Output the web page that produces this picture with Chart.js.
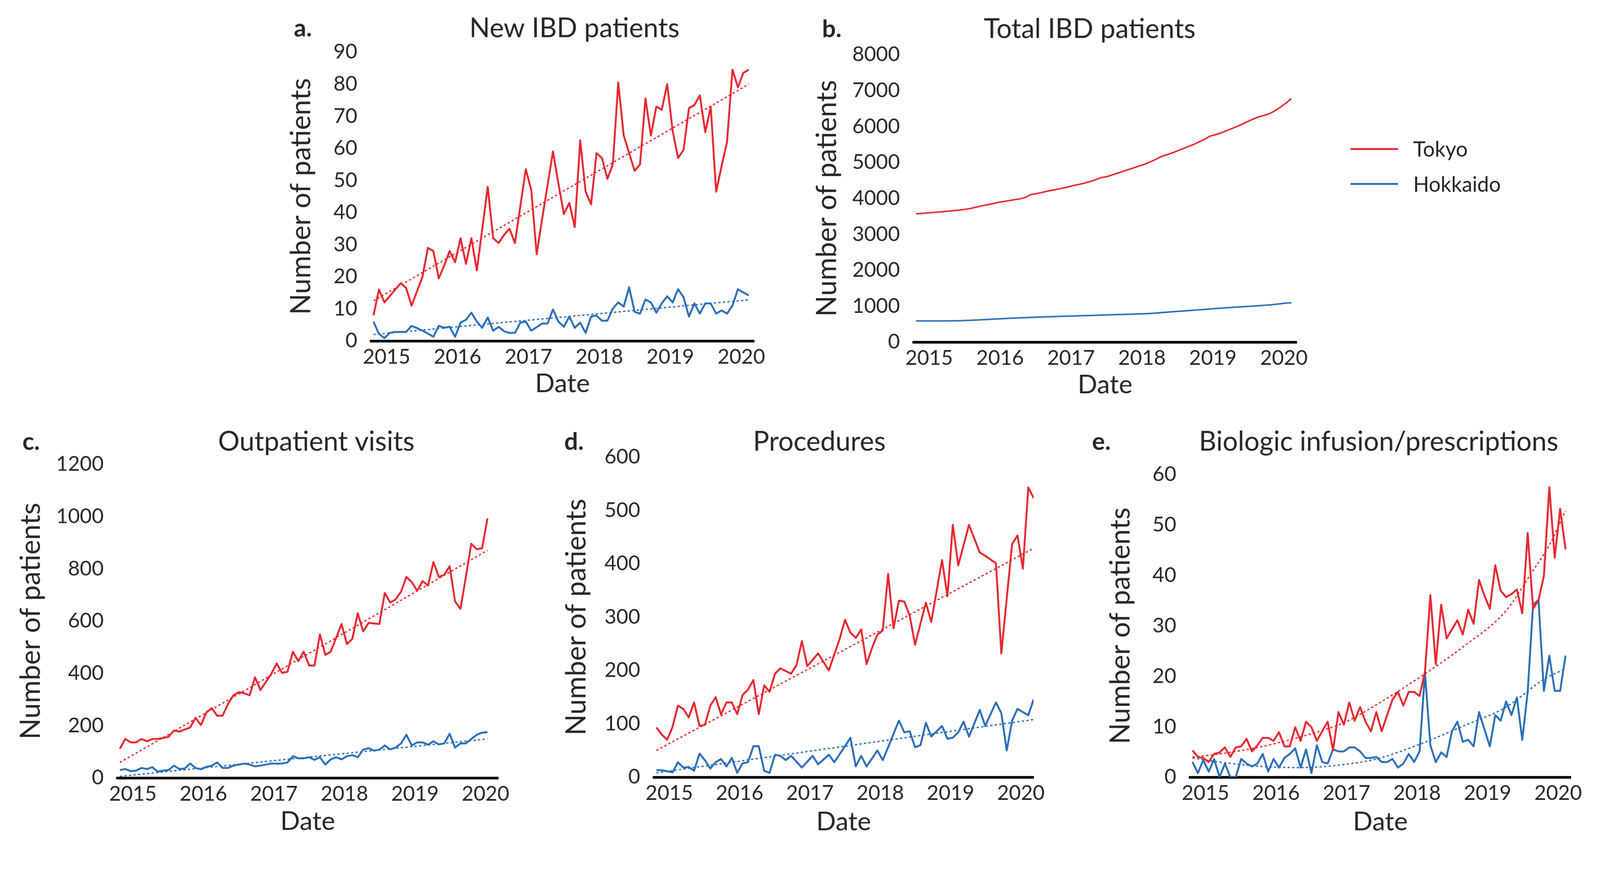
<!DOCTYPE html>
<html>
<head>
<meta charset="utf-8">
<title>IBD patients, Tokyo vs Hokkaido</title>
<script src="https://cdn.jsdelivr.net/npm/chart.js@4.4.1/dist/chart.umd.min.js"></script>
<style>
  html, body { margin: 0; padding: 0; background: #fff; overflow: hidden; }
  #page { position: absolute; left: 0; top: 0; width: 4214px; height: 2230px; transform-origin: 0 0; font-family: Lato, sans-serif; }
  canvas { position: absolute; }
  #legend { position: absolute; left: 3557px; top: 346px; color: #262626; font-size: 55px; font-family: Lato, sans-serif; }
  #legend .item { display: flex; align-items: center; height: 92px; }
  #legend .swatch { width: 125px; height: 5px; margin-right: 40px; }
</style>
</head>
<body>
<div id="page">
  <canvas id="chartA"></canvas>
  <canvas id="chartB"></canvas>
  <canvas id="chartC"></canvas>
  <canvas id="chartD"></canvas>
  <canvas id="chartE"></canvas>
  <div id="legend"></div>
</div>

<script>
// ---- data (4-weekly reporting periods, Oct 2014 - Feb 2020) ----
const seriesNames = ['Tokyo', 'Hokkaido'];
const seriesColors = ['#E8262F', '#2A6DB8'];
const yearTicks = ['2015', '2016', '2017', '2018', '2019', '2020'];

const periodStart = 2014.816;
const periodLength = 28 / 365.25;
const periods = Array.from({ length: 71 }, (_, i) => periodStart + i * periodLength);

// a. New IBD patients
const newTokyo = [8, 16, 12, 14, 16, 18, 16.5, 11, 15.5, 20, 29, 28, 19.5, 23.5, 28, 24.5, 32, 24, 32, 22,
  35, 48, 32, 30.5, 33, 35, 30.5, 42, 53.5, 47, 27, 38, 48.5, 59, 49, 39.5, 43, 35.5, 62.5, 46.5,
  42.5, 58.5, 57, 50.5, 55, 80.5, 64, 58.5, 53, 55, 75.5, 64, 73, 72, 80, 65.5, 57, 59.5, 72.5, 73.5,
  76.5, 65, 73, 46.5, 54.5, 62, 84.5, 79, 83.5, 84.5];
const newHokkaido = [6, 2.2, 0.9, 2.5, 2.8, 2.8, 2.8, 4.7, 4, 3.2, 2.3, 1.3, 4.7, 4.1, 4.4, 1.3, 5.7, 6.6, 8.8, 6,
  4.1, 7.3, 3.2, 4.4, 3, 2.5, 2.5, 5.7, 6, 3.2, 4.3, 5.4, 5.4, 9.8, 6, 4.4, 7.6, 4.1, 5.7, 2.5,
  7.6, 7.9, 6.3, 6.3, 10.1, 12, 10.7, 16.7, 9.1, 8.5, 12.9, 12, 8.8, 11.7, 13.9, 12, 16.1, 13.6, 7.6, 11.7,
  8.5, 11.7, 11.7, 8.5, 9.5, 8.5, 11, 16.1, 15.1, 14.2];
const newTrendAt = [0, 69];
const newTrendTokyo = [12.5, 80];
const newTrendHokkaido = [2, 12.8];

// b. Total IBD patients
const totalTokyo = [3570, 3580, 3595, 3605, 3620, 3630, 3645, 3660, 3675, 3695, 3720, 3755, 3790, 3820, 3850, 3885,
  3910, 3935, 3960, 3985, 4020, 4100, 4130, 4160, 4195, 4225, 4255, 4285, 4320, 4360, 4390, 4425,
  4470, 4520, 4580, 4600, 4650, 4700, 4750, 4800, 4850, 4900, 4950, 5010, 5080, 5160, 5210, 5260,
  5320, 5380, 5440, 5500, 5570, 5640, 5730, 5770, 5820, 5880, 5940, 6000, 6070, 6140, 6210, 6270,
  6310, 6360, 6440, 6540, 6650, 6780];
const totalHokkaido = [590, 590, 590, 590, 590, 590, 590, 592, 595, 600, 606, 612, 620, 628, 636, 644,
  652, 660, 668, 674, 680, 686, 692, 698, 703, 708, 713, 718, 722, 727, 731, 736,
  740, 745, 750, 755, 760, 765, 770, 775, 780, 785, 790, 796, 805, 818, 830, 842,
  853, 864, 875, 886, 897, 908, 920, 932, 944, 955, 965, 975, 984, 993, 1002, 1012,
  1022, 1035, 1050, 1068, 1085, 1092];

// c. Outpatient visits
const visitsTokyo = [112, 149, 136, 136, 149, 140, 149, 149, 153, 157, 181, 177, 185, 193, 230, 202, 251, 267, 238, 238,
  283, 316, 328, 324, 316, 385, 336, 367, 398, 438, 402, 406, 483, 447, 483, 430, 430, 549, 471, 483,
  536, 589, 512, 532, 630, 561, 593, 591, 589, 708, 671, 683, 712, 769, 749, 716, 753, 736, 826, 769,
  777, 810, 675, 647, 770, 896, 875, 879, 993];
const visitsHokkaido = [30, 34, 26, 28, 38, 34, 41, 24, 28, 30, 47, 34, 36, 55, 38, 33, 42, 47, 59, 38,
  38, 47, 51, 55, 51, 44, 47, 51, 55, 55, 55, 59, 83, 75, 75, 79, 69, 79, 51, 71,
  79, 71, 83, 87, 79, 108, 114, 104, 108, 124, 109, 116, 132, 165, 124, 136, 136, 127, 140, 128,
  132, 169, 116, 132, 132, 149, 165, 173, 175];
const visitsTrendAt = [0, 68];
const visitsTrendTokyo = [59, 871];
const visitsTrendHokkaido = [6, 149];

// d. Procedures
const procTokyo = [93, 80, 70, 94, 134, 128, 112, 140, 96, 98, 134, 150, 118, 140, 140, 118, 154, 164, 182, 118,
  172, 160, 194, 204, 199, 194, 210, 255, 208, 220, 232, 216, 200, 230, 259, 295, 271, 261, 277, 212,
  242, 267, 275, 381, 279, 331, 329, 303, 248, 288, 327, 291, 349, 407, 339, 473, 397, 435, 473, 447,
  421, 415, 408, 401, 232, 335, 437, 453, 391, 543, 523];
const procHokkaido = [13, 13, 11, 9, 28, 18, 19, 12, 44, 32, 16, 28, 34, 20, 36, 8, 26, 28, 58, 58,
  12, 8, 42, 40, 32, 40, 29, 18, 29, 40, 24, 33, 42, 28, 43, 58, 74, 20, 40, 20,
  35, 50, 32, 56, 81, 106, 84, 86, 56, 60, 102, 76, 86, 96, 72, 74, 84, 104, 76, 101,
  126, 96, 118, 140, 120, 50, 106, 128, 122, 116, 146];
const procTrendAt = [0, 70];
const procTrendTokyo = [50, 429];
const procTrendHokkaido = [8, 108];

// e. Biologic infusion/prescriptions
const bioTokyo = [5.3, 4, 3.8, 3, 4.6, 4.9, 5.9, 4, 5.9, 6.1, 7.6, 5.1, 6.3, 7.8, 7.8, 7.2, 8.9, 6.1, 6.1, 9.9,
  7.2, 11, 9.9, 7.2, 9.1, 11, 5.3, 12.9, 10.4, 14.8, 11.2, 13.9, 11, 9.1, 12.9, 9.1, 12.3, 15.4, 16.9, 14.2,
  16.9, 16.9, 16.1, 20.9, 36.1, 22.4, 34.2, 27.5, 29.3, 31.1, 28.3, 33.2, 30.4, 39.1, 36, 33.4, 42, 37, 35.7, 36.3,
  37.2, 32.5, 48.4, 33.4, 35.1, 39.9, 57.5, 43.5, 53.2, 45.2];
const bioHokkaido = [3, 0.8, 3.4, 1.1, 3.6, 0, 2.7, 0, 0, 3.6, 2.7, 2.1, 2.7, 4.6, 1.1, 3.6, 1.9, 3.8, 4.6, 5.7,
  1.9, 5.5, 0.8, 6.3, 3, 2.7, 5.5, 5.1, 5.1, 5.9, 5.9, 5.1, 3.8, 3.8, 4, 3, 3, 3.6, 1.9, 2.7,
  4.6, 3, 5.1, 20.7, 6.3, 3, 4.9, 4, 9.1, 11, 7, 7.4, 6.1, 12.9, 9.5, 6.1, 12.3, 11.2, 15, 12.3,
  15.8, 7.4, 16.9, 34.2, 35.1, 17.1, 24.1, 17.1, 17.1, 24.1];
const bioTrendTokyoAt = [0, 5, 13, 20, 28, 33, 43, 50, 58, 63, 66, 69];
const bioTrendTokyo = [4, 4.6, 6.1, 8, 10.8, 13.7, 20.5, 25.8, 33, 41, 46, 52.8];
const bioTrendHokkaidoAt = [0, 5, 13, 20, 28, 34, 42, 50, 58, 65, 69];
const bioTrendHokkaido = [3.8, 3, 2.1, 1.9, 2.5, 3.6, 6.5, 10.1, 13.9, 19.4, 21.5];

// ---- page scaling: everything is laid out on a 4214 x 2230 sheet ----
const page = document.getElementById('page');
const fit = Math.min(window.innerWidth / 4214, window.innerHeight / 2230);
page.style.transform = 'scale(' + fit + ')';

// ---- styling ----
const textColor = '#262626';
Chart.defaults.font.family = 'Lato, sans-serif';
Chart.defaults.color = textColor;

function series(values, k, width) {
  return {
    label: seriesNames[k],
    data: values.map((v, i) => ({ x: periods[i], y: v })),
    borderColor: seriesColors[k],
    borderWidth: width,
    borderJoinStyle: 'round',
    pointRadius: 0,
    tension: 0,
    fill: false
  };
}

function trend(at, values, k) {
  return {
    label: seriesNames[k] + ' trend',
    data: at.map((p, j) => ({ x: periods[p], y: values[j] })),
    borderColor: seriesColors[k],
    borderWidth: 3.5,
    borderDash: [6, 6],
    pointRadius: 0,
    cubicInterpolationMode: 'monotone',
    fill: false
  };
}

// custom plugin: bold panel letter plus centred panel title
const panelHeading = {
  id: 'panelHeading',
  afterDraw(chart, args, opts) {
    const ctx = chart.ctx;
    ctx.save();
    ctx.fillStyle = textColor;
    ctx.textBaseline = 'middle';
    ctx.textAlign = 'left';
    ctx.font = 'bold 64px Lato, sans-serif';
    ctx.fillText(opts.letter, opts.letterX, opts.y);
    ctx.textAlign = 'center';
    ctx.font = '71px Lato, sans-serif';
    ctx.fillText(opts.title, opts.titleX, opts.y);
    ctx.restore();
  }
};

function makePanel(id, L, yMax, yStep, datasets) {
  const [bx, by, bw, bh] = L.box;
  const [ax0, ay0, ax1, ay1] = L.area;
  const canvas = document.getElementById(id);
  canvas.width = bw;
  canvas.height = bh;
  canvas.style.left = bx + 'px';
  canvas.style.top = by + 'px';
  canvas.style.width = bw + 'px';
  canvas.style.height = bh + 'px';

  return new Chart(canvas, {
    type: 'line',
    data: { datasets },
    plugins: [panelHeading],
    options: {
      responsive: false,
      devicePixelRatio: 1,
      animation: false,
      events: [],
      layout: {
        padding: {
          left: ax0 - bx - L.yW,
          top: ay0 - by,
          right: bx + bw - ax1,
          bottom: by + bh - ay1 - L.xH
        }
      },
      plugins: {
        legend: { display: false },
        tooltip: { enabled: false },
        panelHeading: { letter: L.letter, title: L.title, letterX: L.letterX - bx, titleX: L.titleX - bx, y: L.headY - by }
      },
      scales: {
        x: {
          type: 'linear',
          min: 2014.78,
          max: 2020.18,
          grid: { display: false, drawTicks: false },
          border: { display: true, color: '#000', width: 7 },
          ticks: {
            stepSize: 1,
            includeBounds: false,
            autoSkip: false,
            maxRotation: 0,
            padding: 10,
            color: textColor,
            font: { size: 54 },
            callback: v => yearTicks.includes(String(v)) ? String(v) : ''
          },
          title: { display: true, text: 'Date', color: textColor, font: { size: 68 }, padding: 0 },
          afterFit(s) { s.height = L.xH; s.paddingLeft = 0; s.paddingRight = 0; }
        },
        y: {
          min: 0,
          max: yMax,
          grid: { display: false, drawTicks: false },
          border: { display: false },
          ticks: {
            stepSize: yStep,
            padding: 36,
            color: textColor,
            font: { size: 54 },
            callback: v => String(v)
          },
          title: { display: true, text: 'Number of patients', color: textColor, font: { size: 73 }, padding: 0 },
          afterFit(s) { s.width = L.yW; s.paddingTop = 0; s.paddingBottom = 0; }
        }
      }
    }
  });
}

makePanel('chartA',
  { box: [700, 0, 1380, 1080], area: [977, 137, 1986, 898], yW: 227, xH: 154,
    letter: 'a.', title: 'New IBD patients', letterX: 774, titleX: 1513, headY: 75 },
  90, 10,
  [series(newTokyo, 0, 5), series(newHokkaido, 1, 5),
   trend(newTrendAt, newTrendTokyo, 0), trend(newTrendAt, newTrendHokkaido, 1)]);

const chartB = makePanel('chartB',
  { box: [2100, 0, 1380, 1080], area: [2406, 144, 3415, 901], yW: 271, xH: 154,
    letter: 'b.', title: 'Total IBD patients', letterX: 2165, titleX: 2870, headY: 77 },
  8000, 1000,
  [series(totalTokyo, 0, 4), series(totalHokkaido, 1, 4)]);

makePanel('chartC',
  { box: [0, 1100, 1420, 1130], area: [309, 1223, 1312, 2049], yW: 271, xH: 156,
    letter: 'c.', title: 'Outpatient visits', letterX: 59, titleX: 833, headY: 1164 },
  1200, 200,
  [series(visitsTokyo, 0, 5), series(visitsHokkaido, 1, 5),
   trend(visitsTrendAt, visitsTrendTokyo, 0), trend(visitsTrendAt, visitsTrendHokkaido, 1)]);

makePanel('chartD',
  { box: [1420, 1100, 1420, 1130], area: [1722, 1204, 2722, 2047], yW: 247, xH: 159,
    letter: 'd.', title: 'Procedures', letterX: 1486, titleX: 2158, headY: 1164 },
  600, 100,
  [series(procTokyo, 0, 5), series(procHokkaido, 1, 5),
   trend(procTrendAt, procTrendTokyo, 0), trend(procTrendAt, procTrendHokkaido, 1)]);

makePanel('chartE',
  { box: [2840, 1100, 1374, 1130], area: [3134, 1250, 4137, 2047], yW: 226, xH: 159,
    letter: 'e.', title: 'Biologic infusion/prescriptions', letterX: 2876, titleX: 3631, headY: 1164 },
  60, 10,
  [series(bioTokyo, 0, 5), series(bioHokkaido, 1, 5),
   trend(bioTrendTokyoAt, bioTrendTokyo, 0), trend(bioTrendHokkaidoAt, bioTrendHokkaido, 1)]);

// legend built from panel b's datasets
const legendEl = document.getElementById('legend');
chartB.data.datasets.forEach(ds => {
  const item = document.createElement('div');
  item.className = 'item';
  const sw = document.createElement('span');
  sw.className = 'swatch';
  sw.style.background = ds.borderColor;
  const label = document.createElement('span');
  label.textContent = ds.label;
  item.appendChild(sw);
  item.appendChild(label);
  legendEl.appendChild(item);
});
</script>
</body>
</html>
